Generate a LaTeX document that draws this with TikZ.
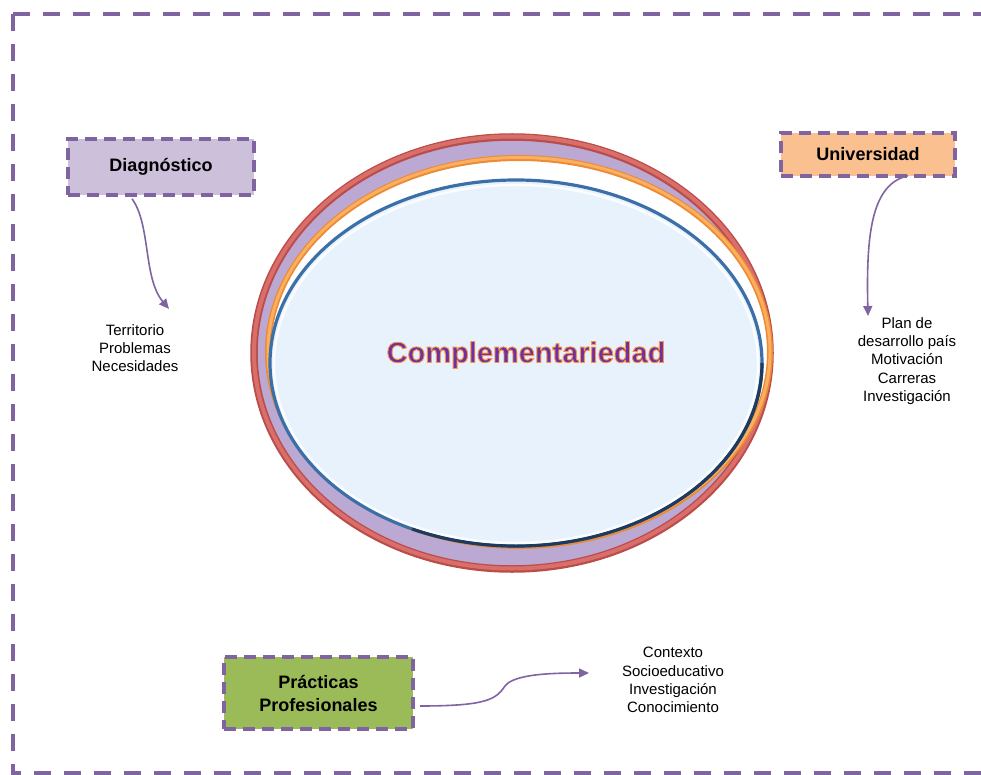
\documentclass[tikz,border=0pt]{standalone}
\usepackage{fontspec}
\setmainfont{Liberation Sans}
\usetikzlibrary{arrows.meta,calc}
\definecolor{frm}{HTML}{8064A2}
\definecolor{lav}{HTML}{CCC0DA}
\definecolor{peach}{HTML}{FAC090}
\definecolor{olive}{HTML}{9BBB59}
\definecolor{ringreddk}{HTML}{B94D4A}
\definecolor{ringred}{HTML}{DA6E6A}
\definecolor{ringordk}{HTML}{EC8A36}
\definecolor{ringor}{HTML}{FBB060}
\definecolor{ringbl}{HTML}{3B6FA8}
\definecolor{ringbldk}{HTML}{1F3A5F}
\definecolor{ringfill}{HTML}{BBA8D3}
\definecolor{inner}{HTML}{E8F2FC}
\definecolor{txtpur}{HTML}{7030A0}
\newcommand{\orangeoutline}[1]{\special{pdf:literal direct 0.969 0.588 0.275 RG 0.9 w 2 Tr}#1\special{pdf:literal direct 0 Tr}}
\begin{document}
\begin{tikzpicture}[x=1pt,y=-1pt,
  frame/.style={draw=frm, line width=4pt, dash pattern=on 17pt off 13pt},
  lbl/.style={draw=frm, line width=3.5pt, dash pattern=on 12pt off 7pt,
    font=\fontsize{18}{23}\selectfont\bfseries, inner sep=0pt, align=center},
  lst/.style={font=\fontsize{15}{18.3}\selectfont, align=center, inner sep=0pt},
  conn/.style={draw=frm, line width=1.6pt, -{Triangle[length=10pt,width=9pt]}}]
\useasboundingbox (0,0) rectangle (981,775);
% outer frame
\draw[frame] (13,14) -- (13,773) -- (1000,773);
\draw[frame] (13,14) -- (1000,14);
% red ring
\filldraw[fill=ringfill, draw=ringreddk, line width=7.5pt] (512,353) ellipse [x radius=258, y radius=216];
\draw[ringred, line width=4pt] (512,352.5) ellipse [x radius=258, y radius=216];
% orange ring
\filldraw[fill=white, draw=ringordk, line width=6pt] (519,352) ellipse [x radius=251, y radius=194];
\draw[ringor, line width=3pt] (519,351.5) ellipse [x radius=251, y radius=194];
% blue ring
\filldraw[fill=inner, draw=ringbl, line width=3.2pt] (516,363) ellipse [x radius=246, y radius=183];
\draw[ringbldk, line width=3.2pt] ($(516,363)+(246,0)$) arc [start angle=0, end angle=115, x radius=246, y radius=183];
\draw[white, line width=2.5pt, opacity=0.8] (516,364) ellipse [x radius=242, y radius=179];
\node (comp) at (526,355) {\fontsize{29}{34}\selectfont\bfseries\color{txtpur}\orangeoutline{Complementariedad}};
% label boxes
\node[lbl, fill=lav, minimum width=186pt, minimum height=56pt] (diag) at (161,167) {Diagnóstico};
\node[lbl, fill=peach, minimum width=174pt, minimum height=43pt] (univ) at (868,154.5) {Universidad};
\node[lbl, fill=olive, minimum width=189pt, minimum height=72pt] (prac) at (318.5,693) {Prácticas\\Profesionales};
% lists
\node[lst] (ldiag) at (135,348) {Territorio\\Problemas\\Necesidades};
\node[lst] (luniv) at (907,361) {Plan de\\desarrollo país\\Motivación\\Carreras\\Investigación};
\node[lst] (lprac) at (673,680) {Contexto\\Socioeducativo\\Investigación\\Conocimiento};
% connectors
\coordinate (tipD) at (169,309);
\coordinate (tipU) at (868,316);
\coordinate (tipP) at (589,673);
\draw[conn] ($(diag.south)+(-29,2)$) .. controls (151,225) and (143,278) .. (tipD);
\draw[conn] ($(univ.south)+(40,-2)$) .. controls (872,184) and (866,232) .. (tipU);
\draw[conn] ($(prac.east)+(5,13)$) .. controls (488,706) and (496,699) .. (505,686) .. controls (514,674) and (552,673) .. (tipP);
\end{tikzpicture}
\end{document}
